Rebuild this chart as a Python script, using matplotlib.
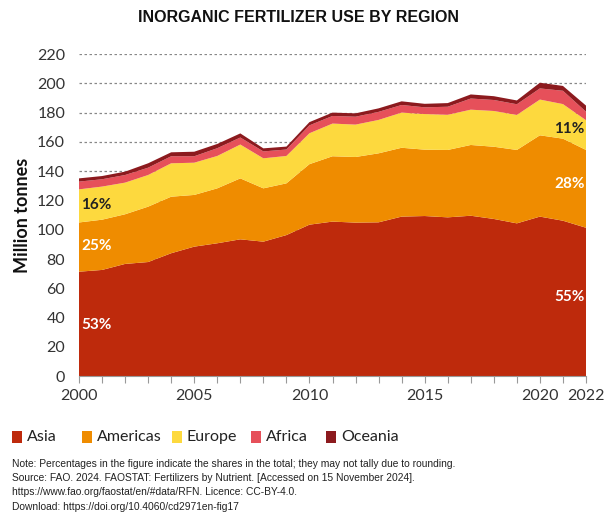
import matplotlib
matplotlib.use("Agg")
import matplotlib.pyplot as plt
import numpy as np
from matplotlib.patches import Rectangle

years = list(range(2000, 2023))
# cumulative tops (million tonnes)
asia = [71.4, 72.6, 76.7, 78.0, 84.0, 88.5, 90.8, 93.5, 91.9, 96.4, 103.5, 105.6,
        104.9, 105.1, 109.0, 109.4, 108.5, 109.6, 107.4, 104.4, 109.0, 106.2, 101.4]
americas_top = [105.0, 106.9, 110.6, 115.8, 122.6, 123.8, 128.3, 135.1, 128.3, 131.7, 144.8, 150.2,
                149.7, 152.2, 156.0, 154.7, 154.5, 157.9, 156.7, 154.5, 164.5, 162.2, 154.5]
europe_top = [127.6, 129.5, 132.2, 137.4, 145.4, 145.8, 150.4, 158.2, 148.8, 150.4, 165.9, 172.5,
              171.8, 175.0, 180.0, 179.0, 178.5, 182.0, 181.1, 178.4, 188.9, 185.8, 174.8]
africa_top = [132.9, 134.5, 137.4, 142.4, 150.2, 150.2, 155.7, 163.0, 153.5, 154.8, 171.3, 177.7,
              177.2, 180.5, 185.2, 183.6, 184.0, 189.6, 188.6, 185.7, 196.5, 194.9, 180.6]
total = [135.1, 136.7, 139.7, 145.4, 152.9, 153.3, 158.6, 165.8, 155.6, 156.8, 173.5, 180.0,
         179.5, 182.9, 187.7, 186.0, 186.5, 192.4, 191.2, 188.3, 200.4, 198.2, 184.8]

americas = list(np.array(americas_top) - np.array(asia))
europe = list(np.array(europe_top) - np.array(americas_top))
africa = list(np.array(africa_top) - np.array(europe_top))
oceania = list(np.array(total) - np.array(africa_top))

regions = ["Asia", "Americas", "Europe", "Africa", "Oceania"]
colors = ["#BE2A0C", "#EF8C00", "#FDD93E", "#E6505A", "#8C1A1E"]
yticks = list(range(0, 221, 20))
xtick_labels = [2000, 2005, 2010, 2015, 2020, 2022]

start_pct = ["53%", "25%", "16%"]
end_pct = ["55%", "28%", "11%"]

plt.rcParams['font.family'] = ['Lato', 'DejaVu Sans']

fig = plt.figure(figsize=(6.05, 5.18), dpi=100)
ax = fig.add_axes([79/605, 1-376.3/518, (586-79)/605, (376.3-54)/518])

ax.stackplot(years, asia, americas, europe, africa, oceania, colors=colors,
             linewidth=0, zorder=2)

ax.set_xlim(2000, 2022)
ax.set_ylim(0, 220)
ax.set_yticks(yticks)
ax.set_yticklabels([str(v) for v in yticks], fontsize=11.5, color="#333333")
ax.tick_params(axis='y', length=0, pad=10)
ax.set_xticks(xtick_labels)
ax.set_xticklabels([str(v) for v in xtick_labels], fontsize=11.5, color="#333333")
ax.set_xticks(years, minor=True)
ax.tick_params(axis='x', which='both', length=5, color="#999999", width=0.8, direction='out')
ax.tick_params(axis='x', pad=4)
for s in ['top', 'right', 'left']:
    ax.spines[s].set_visible(False)
ax.spines['bottom'].set_color("#999999")
ax.spines['bottom'].set_linewidth(0.8)
ax.yaxis.grid(True, linestyle=(0, (2, 2)), color="#888888", linewidth=0.9, zorder=0)
ax.set_axisbelow(True)

ax.set_ylabel("Million tonnes", fontsize=13, fontweight='bold', color="#111111")
ax.yaxis.set_label_coords((31 - 79) / 507, 0.5)

# percentage labels
ax.text(2000.1, 35, start_pct[0], color="white", fontsize=11, fontweight='bold', va='center', ha='left')
ax.text(2000.1, 89, start_pct[1], color="white", fontsize=11, fontweight='bold', va='center', ha='left')
ax.text(2000.1, 117, start_pct[2], color="#222222", fontsize=11, fontweight='bold', va='center', ha='left')
ax.text(2021.93, 54, end_pct[0], color="white", fontsize=11, fontweight='bold', va='center', ha='right')
ax.text(2021.93, 131, end_pct[1], color="white", fontsize=11, fontweight='bold', va='center', ha='right')
ax.text(2021.93, 169, end_pct[2], color="#222222", fontsize=11, fontweight='bold', va='center', ha='right')

fig.text(299/605, 1-17/518, "INORGANIC FERTILIZER USE BY REGION", ha='center', va='center',
         fontsize=11.5, fontweight='bold', color="#111111",
         family=['Liberation Sans Narrow', 'Liberation Sans', 'DejaVu Sans'])

# legend
leg_x = [12, 82, 172, 251, 326]
for lx, name, c in zip(leg_x, regions, colors):
    fig.patches.append(Rectangle((lx/605, 1-443/518), 10/605, 12/518, transform=fig.transFigure,
                                 facecolor=c, edgecolor='none'))
    fig.text((lx+15)/605, 1-437/518, name, ha='left', va='center', fontsize=11.5, color="#222222")

notes = ["Note: Percentages in the figure indicate the shares in the total; they may not tally due to rounding.",
         "Source: FAO. 2024. FAOSTAT: Fertilizers by Nutrient. [Accessed on 15 November 2024].",
         "https://www.fao.org/faostat/en/#data/RFN. Licence: CC-BY-4.0.",
         "Download: https://doi.org/10.4060/cd2971en-fig17"]
for i, line in enumerate(notes):
    fig.text(12/605, 1-(464 + 14.2*i)/518, line, ha='left', va='center', fontsize=7.4, color="#222222",
             family=['Liberation Sans Narrow', 'Liberation Sans', 'DejaVu Sans'])

fig.savefig("out.png", dpi=100)
